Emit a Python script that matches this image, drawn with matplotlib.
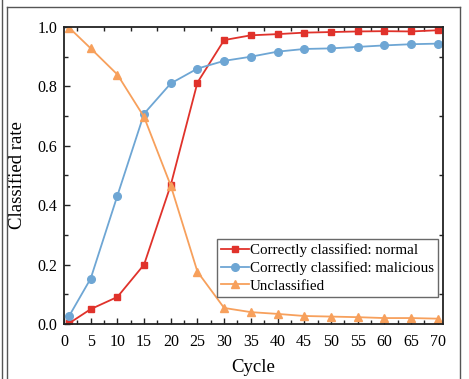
import matplotlib.pyplot as plt
from matplotlib.ticker import MultipleLocator
from matplotlib.lines import Line2D

plt.rcParams['font.family'] = ['Liberation Serif', 'DejaVu Serif']

cycles = [1, 5, 10, 15, 20, 25, 30, 35, 40, 45, 50, 55, 60, 65, 70]
normal = [0.003, 0.05, 0.091, 0.20, 0.468, 0.813, 0.956, 0.972, 0.976, 0.981,
          0.983, 0.985, 0.986, 0.985, 0.989]
malicious = [0.028, 0.153, 0.432, 0.708, 0.81, 0.86, 0.886, 0.90, 0.917, 0.926,
             0.928, 0.933, 0.938, 0.942, 0.944]
unclassified = [0.997, 0.928, 0.84, 0.697, 0.466, 0.176, 0.054, 0.04, 0.034,
                0.027, 0.025, 0.023, 0.02, 0.02, 0.018]

x_ticks = list(range(0, 71, 5))
y_ticks = [0.0, 0.2, 0.4, 0.6, 0.8, 1.0]
y_labels = ['0.0', '0.2', '0.4', '0.6', '0.8', '1.0']

fig = plt.figure(figsize=(4.69, 3.79), dpi=100)
ax = fig.add_axes([64 / 469, 1 - 324 / 379, (443 - 64) / 469, (324 - 27) / 379])

ax.plot(cycles, normal, color='#e0322b', marker='s', markersize=5, linewidth=1.3,
        label='Correctly classified: normal')
ax.plot(cycles, malicious, color='#6ea6d4', marker='o', markersize=5.5, linewidth=1.3,
        label='Correctly classified: malicious')
ax.plot(cycles, unclassified, color='#f7a05c', marker='^', markersize=5.5, linewidth=1.3,
        label='Unclassified')

ax.set_xlim(0, 71)
ax.set_ylim(0, 1.0)
ax.set_xticks(x_ticks)
ax.set_yticks(y_ticks)
ax.set_yticklabels(y_labels)
ax.xaxis.set_minor_locator(MultipleLocator(2.5))
ax.yaxis.set_minor_locator(MultipleLocator(0.1))
ax.tick_params(which='both', direction='in', top=True, right=True, labelsize=11.5,
               color='#222222')
ax.tick_params(which='major', length=4, width=1, top=False, right=False)
ax.tick_params(axis='x', which='major', pad=7)
ax.tick_params(axis='y', which='major', pad=5)
ax.tick_params(which='minor', length=3, width=1)
for s in ax.spines.values():
    s.set_linewidth(1.3)
    s.set_color('#222222')

ax.set_xlabel('Cycle', fontsize=13.5, labelpad=7)
ax.set_ylabel('Classified rate', fontsize=13.5, labelpad=8)

leg = ax.legend(loc='lower right', bbox_to_anchor=((438 - 64) / 379, (324 - 297) / 297),
                fontsize=10.8, frameon=True, fancybox=False, edgecolor='#444444',
                handlelength=1.85, handletextpad=0.05, borderpad=0.3,
                labelspacing=0.28, borderaxespad=0.0)
leg.get_frame().set_linewidth(1.0)

# outer frame lines
for xs, ys in [([2 / 469, 2 / 469], [0, 1]), ([7 / 469, 7 / 469], [0, 1 - 7 / 379]),
               ([7 / 469, 460 / 469], [1 - 7 / 379, 1 - 7 / 379]),
               ([460 / 469, 460 / 469], [0, 1 - 7 / 379])]:
    fig.add_artist(Line2D(xs, ys, color='#555555', linewidth=1.0))

fig.savefig('out.png', dpi=100)
